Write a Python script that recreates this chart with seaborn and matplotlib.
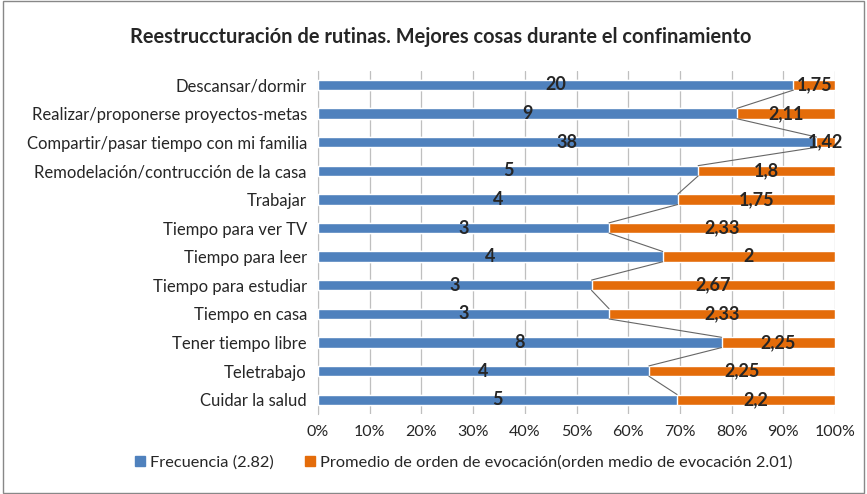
import numpy as np
import pandas as pd
import seaborn as sns
import matplotlib.pyplot as plt
from matplotlib.patches import Patch

categorias = ["Descansar/dormir", "Realizar/proponerse proyectos-metas",
              "Compartir/pasar tiempo con mi familia", "Remodelación/contrucción de la casa",
              "Trabajar", "Tiempo para ver TV", "Tiempo para leer", "Tiempo para estudiar",
              "Tiempo en casa", "Tener tiempo libre", "Teletrabajo", "Cuidar la salud"]
frecuencia = [20, 9, 38, 5, 4, 3, 4, 3, 3, 8, 4, 5]
promedio = [1.75, 2.11, 1.42, 1.8, 1.75, 2.33, 2, 2.67, 2.33, 2.25, 2.25, 2.2]
promedio_txt = ["1,75", "2,11", "1,42", "1,8", "1,75", "2,33", "2", "2,67", "2,33", "2,25", "2,25", "2,2"]

df = pd.DataFrame({"cat": categorias, "f": frecuencia, "p": promedio})
df["pf"] = df["f"] / (df["f"] + df["p"])
df["tot"] = 1.0

sns.set_style("white")
plt.rcParams['font.family'] = ['Lato', 'DejaVu Sans']

blue = "#4f81bd"
orange = "#e46c0a"

fig = plt.figure(figsize=(8.67, 4.94), dpi=100)
ax = fig.add_axes([0.3668, 0.162, 0.5963, 0.695])

sns.barplot(data=df, x="tot", y="cat", color=orange, width=0.36, ax=ax, saturation=1, zorder=3)
sns.barplot(data=df, x="pf", y="cat", color=blue, width=0.36, ax=ax, saturation=1, zorder=3)

# series lines between segments
h = 0.18
for i in range(len(df) - 1):
    ax.plot([df["pf"][i], df["pf"][i + 1]], [i + h, i + 1 - h], color="#666666", lw=0.8, zorder=4)

# labels
for i, r in df.iterrows():
    ax.text(r["pf"] / 2, i, str(r["f"]), ha="center", va="center", fontsize=13,
            fontweight="bold", zorder=5)
    ax.text((r["pf"] + 1) / 2, i, promedio_txt[i], ha="center", va="center", fontsize=13,
            fontweight="bold", zorder=5)

ax.set_xlim(0, 1)
ax.set_ylim(11.5, -0.5)
ax.set_xticks(np.arange(0, 1.01, 0.1))
ax.set_xticklabels([f"{int(round(t * 100))}%" for t in np.arange(0, 1.01, 0.1)], fontsize=11.5)
ax.tick_params(axis="y", labelsize=12, length=0, pad=8)
ax.tick_params(axis="x", length=0, pad=8)
ax.set_xlabel("")
ax.set_ylabel("")
ax.xaxis.grid(True, color="#bfbfbf", lw=0.9, zorder=0)
ax.set_axisbelow(True)
for s in ["top", "right", "bottom"]:
    ax.spines[s].set_visible(False)
ax.spines["left"].set_color("#bfbfbf")

fig.suptitle("Reestruccturación de rutinas. Mejores cosas durante el confinamiento",
             x=0.508, y=0.945, fontsize=14.4, fontweight="bold")

handles = [Patch(color=blue, label="Frecuencia (2.82)"),
           Patch(color=orange, label="Promedio de orden de evocación(orden medio de evocación 2.01)")]
fig.legend(handles=handles, loc="center", bbox_to_anchor=(0.535, 0.063), ncol=2, frameon=False,
           fontsize=11.8, handlelength=0.6, handleheight=0.6, handletextpad=0.3, columnspacing=1.9)

fig.patches.append(plt.Rectangle((0.003, 0.003), 0.994, 0.994, transform=fig.transFigure,
                                 fill=False, edgecolor="#888888", lw=1))

fig.savefig("out.png", dpi=100)
